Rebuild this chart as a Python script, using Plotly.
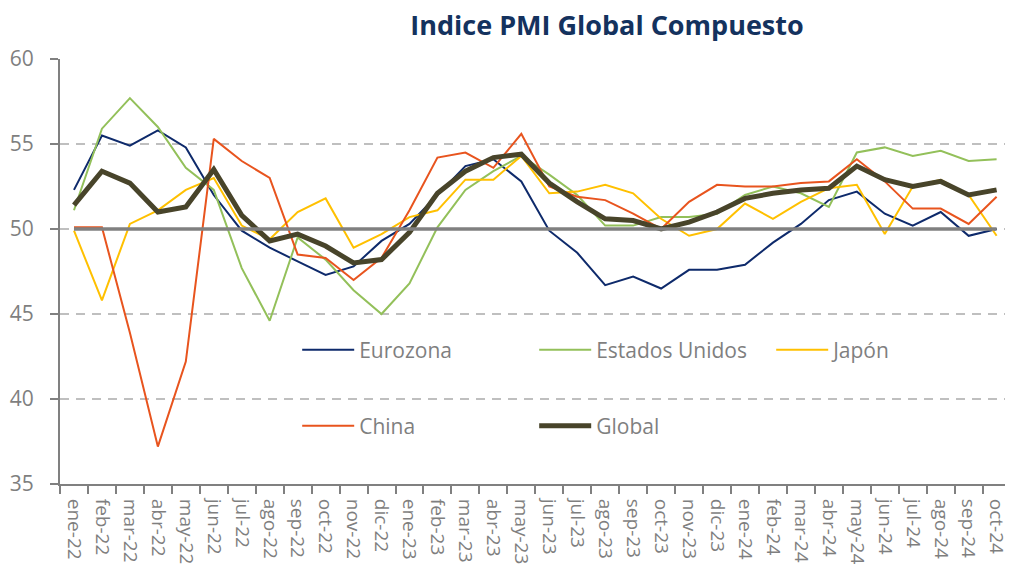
import plotly.graph_objects as go

months = ["ene-22","feb-22","mar-22","abr-22","may-22","jun-22","jul-22","ago-22","sep-22","oct-22","nov-22","dic-22",
          "ene-23","feb-23","mar-23","abr-23","may-23","jun-23","jul-23","ago-23","sep-23","oct-23","nov-23","dic-23",
          "ene-24","feb-24","mar-24","abr-24","may-24","jun-24","jul-24","ago-24","sep-24","oct-24"]

eurozona = [52.3,55.5,54.9,55.8,54.8,52.0,49.9,48.9,48.1,47.3,47.8,49.3,
            50.3,52.0,53.7,54.1,52.8,49.9,48.6,46.7,47.2,46.5,47.6,47.6,
            47.9,49.2,50.3,51.7,52.2,50.9,50.2,51.0,49.6,50.0]
estados_unidos = [51.1,55.9,57.7,56.0,53.6,52.3,47.7,44.6,49.5,48.2,46.4,45.0,
                  46.8,50.1,52.3,53.4,54.3,53.2,52.0,50.2,50.2,50.7,50.7,50.9,
                  52.0,52.5,52.1,51.3,54.5,54.8,54.3,54.6,54.0,54.1]
japon = [49.9,45.8,50.3,51.1,52.3,53.0,50.2,49.4,51.0,51.8,48.9,49.7,
         50.7,51.1,52.9,52.9,54.3,52.1,52.2,52.6,52.1,50.6,49.6,50.0,
         51.5,50.6,51.6,52.4,52.6,49.7,52.5,52.9,52.0,49.6]
china = [50.1,50.1,43.9,37.2,42.2,55.3,54.0,53.0,48.5,48.3,47.0,48.3,
         51.1,54.2,54.5,53.6,55.6,52.5,51.9,51.7,50.9,50.0,51.6,52.6,
         52.5,52.5,52.7,52.8,54.1,52.8,51.2,51.2,50.3,51.9]
global_pmi = [51.4,53.4,52.7,51.0,51.3,53.5,50.8,49.3,49.7,49.0,48.0,48.2,
              49.8,52.1,53.4,54.2,54.4,52.7,51.6,50.6,50.5,50.0,50.4,51.0,
              51.8,52.1,52.3,52.4,53.7,52.9,52.5,52.8,52.0,52.3]

threshold = 50
y_ticks = [35, 40, 45, 50, 55, 60]
title_text = "Indice PMI Global Compuesto"

GRAY = "#808080"
TEXT_GRAY = "#7F7F7F"
FONT = "Open Sans"

series = [
    ("Eurozona", eurozona, "#0E2A6B", 2, "legend"),
    ("Estados Unidos", estados_unidos, "#93C05A", 2, "legend"),
    ("Japón", japon, "#FFC000", 2, "legend"),
    ("China", china, "#E8541E", 2, "legend2"),
    ("Global", global_pmi, "#48442A", 5, "legend2"),
]

fig = go.Figure()
for name, vals, color, width, leg in series:
    fig.add_trace(go.Scatter(x=months, y=vals, name=name, mode="lines",
                             line=dict(color=color, width=width), legend=leg))

# 50-level reference line spanning first to last month, drawn on top
fig.add_shape(type="line", xref="x", x0=0, x1=len(months) - 1,
              yref="y", y0=threshold, y1=threshold,
              line=dict(color=GRAY, width=3.5), layer="above")

legend_common = dict(orientation="h", xanchor="left", yanchor="middle",
                     font=dict(family=FONT, size=21, color=TEXT_GRAY),
                     bgcolor="rgba(0,0,0,0)", itemwidth=52,
                     entrywidth=170, entrywidthmode="pixels", tracegroupgap=0)

fig.update_layout(
    width=1010, height=583,
    margin=dict(l=60, r=0, t=59, b=99),
    paper_bgcolor="white", plot_bgcolor="white",
    title=dict(text="<b>" + title_text + "</b>", x=0.601, xanchor="center",
               y=1 - 26/583, yanchor="middle", yref="container",
               font=dict(family=FONT, size=27, color="#14325E")),
    legend=dict(x=0.251, y=0.315, **legend_common),
    legend2=dict(x=0.251, y=0.136, **legend_common),
    xaxis=dict(type="category", range=[-0.5, 33.3], showgrid=False,
               showline=True, linecolor=GRAY, linewidth=2,
               ticks="outside", ticklen=8, tickcolor=GRAY, tickwidth=2,
               tickson="boundaries", tickangle=90, ticklabelstandoff=9,
               tickfont=dict(family=FONT, size=19, color=TEXT_GRAY)),
    yaxis=dict(range=[35, 60], tickvals=y_ticks, showgrid=True,
               gridcolor="#BFBFBF", gridwidth=2, griddash="9px,7px",
               zeroline=False, showline=True, linecolor=GRAY, linewidth=2,
               ticks="outside", ticklen=8, tickcolor=GRAY, tickwidth=2,
               ticklabelstandoff=12,
               tickfont=dict(family=FONT, size=21, color=TEXT_GRAY)),
)

fig.write_html("out.html", config={"displayModeBar": False},
               post_script="document.body.style.margin='0';")
